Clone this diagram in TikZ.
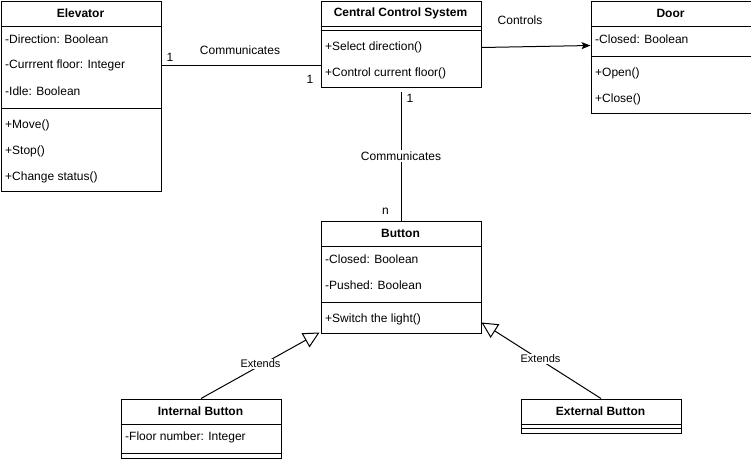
\documentclass[tikz,border=0pt]{standalone}
\usepackage{fontspec}
\setmainfont{Liberation Sans}
\usetikzlibrary{arrows.meta}
\begin{document}
\begin{tikzpicture}[x=1pt,y=-1pt,
  classbox/.style={draw, line width=1pt, minimum width=160pt, anchor=north west, inner sep=0pt, fill=white},
  ctitle/.style={font=\fontsize{12}{14}\selectfont\bfseries, inner sep=0pt},
  member/.style={font=\fontsize{12}{14}\selectfont, anchor=west, inner sep=0pt},
  sepline/.style={line width=1pt},
  conn/.style={line width=1pt},
  lbl/.style={font=\fontsize{12}{14}\selectfont, inner sep=1pt},
  elbl/.style={font=\fontsize{11}{13}\selectfont, fill=white, inner sep=1pt},
  ext/.style={conn, -{Triangle[open, length=16pt, width=16pt, fill=white]}},
  ctl/.style={conn, -{Stealth[length=9pt, width=7pt, inset=2pt]}},
]
\useasboundingbox[fill=white] (0,0) rectangle (751,459);

% Elevator
\node[classbox, minimum height=190pt] (elev) at (0.5,0.5) {};
\node[ctitle] (elevT) at (80.5,13.5) {Elevator};
\draw[sepline] (0.5,26.5) -- (160.5,26.5);
\node[member] (elevA1) at (5,39.5) {-Direction: Boolean};
\node[member] (elevA2) at (5,65.5) {-Currrent floor: Integer};
\node[member] (elevA3) at (5,91.5) {-Idle: Boolean};
\draw[sepline] (0.5,108.5) -- (160.5,108.5);
\node[member] (elevM1) at (5,125.5) {+Move()};
\node[member] (elevM2) at (5,151.5) {+Stop()};
\node[member] (elevM3) at (5,177.5) {+Change status()};

% Central Control System
\node[classbox, minimum height=86pt] (ccs) at (320.5,0.5) {};
\node[ctitle] (ccsT) at (400.5,13.5) {Central Control System};
\draw[sepline] (320.5,26.5) -- (480.5,26.5);
\draw[sepline] (320.5,30.5) -- (480.5,30.5);
\node[member] (ccsM1) at (325,47.5) {+Select direction()};
\node[member] (ccsM2) at (325,73.5) {+Control current floor()};

% Door
\node[classbox, minimum height=112pt] (door) at (590.5,0.5) {};
\node[ctitle] (doorT) at (670.5,13.5) {Door};
\draw[sepline] (590.5,26.5) -- (750.5,26.5);
\node[member] (doorA1) at (595,39.5) {-Closed: Boolean};
\draw[sepline] (590.5,56.5) -- (750.5,56.5);
\node[member] (doorM1) at (595,73.5) {+Open()};
\node[member] (doorM2) at (595,99.5) {+Close()};

% Button
\node[classbox, minimum height=112pt] (btn) at (320.5,220.5) {};
\node[ctitle] (btnT) at (400.5,233.5) {Button};
\draw[sepline] (320.5,246.5) -- (480.5,246.5);
\node[member] (btnA1) at (325,259.5) {-Closed: Boolean};
\node[member] (btnA2) at (325,285.5) {-Pushed: Boolean};
\draw[sepline] (320.5,302.5) -- (480.5,302.5);
\node[member] (btnM1) at (325,319.5) {+Switch the light()};

% Internal Button
\node[classbox, minimum height=59pt] (intb) at (120.5,398.5) {};
\node[ctitle] (intbT) at (200.5,411.5) {Internal Button};
\draw[sepline] (120.5,424.5) -- (280.5,424.5);
\node[member] (intbA1) at (125,437.5) {-Floor number: Integer};
\draw[sepline] (120.5,453.5) -- (280.5,453.5);

% External Button
\node[classbox, minimum height=34pt] (extb) at (520.5,398.5) {};
\node[ctitle] (extbT) at (600.5,411.5) {External Button};
\draw[sepline] (520.5,424.5) -- (680.5,424.5);
\draw[sepline] (520.5,428.5) -- (680.5,428.5);

% helper coordinates
\coordinate (h65) at (0,65.5);
\coordinate (h47) at (0,47.5);
\coordinate (h46) at (0,45.5);

% Elevator -- CCS
\draw[conn] (elev.east |- h65) -- (ccs.west |- h65);
\node[lbl] (lc1) at (240,50.5) {Communicates};
\node[lbl] (m1a) at (170,57) {1};
\node[lbl] (m1b) at (310,79) {1};

% CCS -> Door
\draw[ctl] (ccs.east |- h47) -- (door.west |- h46);
\node[lbl] (lc2) at (520,20.5) {Controls};

% CCS -- Button
\draw[conn] ([yshift=-4pt]ccs.south) -- (btn.north)
  node[lbl, pos=0.5, fill=white, inner sep=2pt] (lc3) {Communicates};
\node[lbl] (m2a) at (410,98.5) {1};
\node[lbl] (m2b) at (385.5,211) {n};

% Generalisations
\draw[ext] (intb.north) -- ([xshift=-1pt,yshift=1pt]btn.south west);
\node[elbl] (le1) at (260.5,364) {Extends};
\draw[ext] (extb.north) -- ([yshift=11pt]btn.south east);
\node[elbl] (le2) at (540.5,359) {Extends};
\end{tikzpicture}
\end{document}
